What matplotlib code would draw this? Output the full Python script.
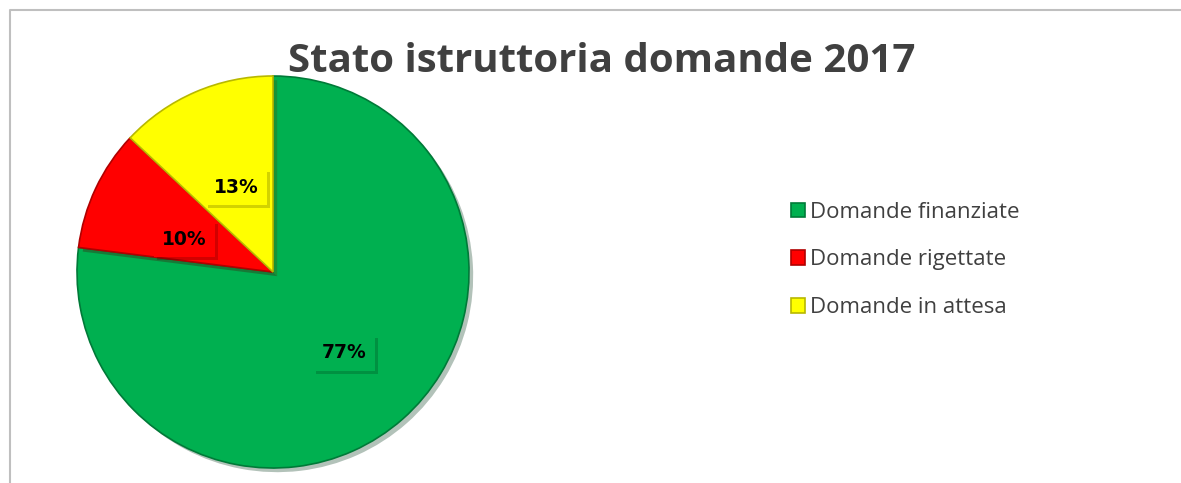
import numpy as np
import matplotlib.pyplot as plt
import matplotlib.patheffects as pe
from matplotlib.patches import Patch

# data
labels = ['Domande finanziate', 'Domande rigettate', 'Domande in attesa']
values = [77, 10, 13]
colors = ['#00B050', '#FF0000', '#FFFF00']
edges = ['#007A38', '#B00000', '#B8B800']

W, H = 1181, 483
fig = plt.figure(figsize=(W / 100, H / 100), dpi=100)
ax = fig.add_axes([0, 0, 1, 1])

# light grey chart frame (only top and left visible)
ax.plot([10, 10, W], [0, H - 10, H - 10], color='#BFBFBF', lw=1.5)

wedges, _ = ax.pie(values, colors=colors, startangle=90, counterclock=False,
                   center=(273, H - 272), radius=196,
                   explode=[0.015, 0, 0],
                   wedgeprops=dict(linewidth=1.2),
                   frame=True)
for w, ec in zip(wedges, edges):
    w.set_edgecolor(ec)
    w.set_path_effects([pe.SimplePatchShadow(offset=(3, -3), alpha=0.3), pe.Normal()])

# data labels, nudged like excel's best fit (distance as fraction of radius, extra angle)
label_pos = [(0.55, 0), (0.48, 5), (0.47, 0)]
for w, v, c, (d, rot) in zip(wedges, values, colors, label_pos):
    ang = np.deg2rad((w.theta1 + w.theta2) / 2 + rot)
    cx, cy = w.center
    x = cx + d * w.r * np.cos(ang)
    y = cy + d * w.r * np.sin(ang)
    ax.text(x, y, f'{v}%', ha='center', va='center', fontsize=13.5,
            fontweight='bold', color='black',
            bbox=dict(boxstyle='square,pad=0.45', fc=c, ec='none',
                      path_effects=[pe.SimplePatchShadow(offset=(2, -2), alpha=0.25), pe.Normal()]))

ax.set_xlim(0, W)
ax.set_ylim(0, H)
ax.set_aspect('equal')
ax.axis('off')

fig.text(602 / W, 1 - 62 / H, 'Stato istruttoria domande 2017', ha='center', va='center',
         fontsize=29, fontweight='bold', color='#404040', family='Open Sans')

handles = [Patch(facecolor=c, edgecolor=ec, linewidth=1.2) for c, ec in zip(colors, edges)]
ax.legend(handles, labels, loc='center left', bbox_to_anchor=(771 / W, 1 - 260 / H),
          bbox_transform=fig.transFigure, frameon=False,
          prop=dict(family='Open Sans', size=16), labelcolor='#404040',
          handlelength=0.65, handleheight=0.65, handletextpad=0.2,
          labelspacing=1.2)

fig.savefig('out.png', dpi=100, facecolor='white')
